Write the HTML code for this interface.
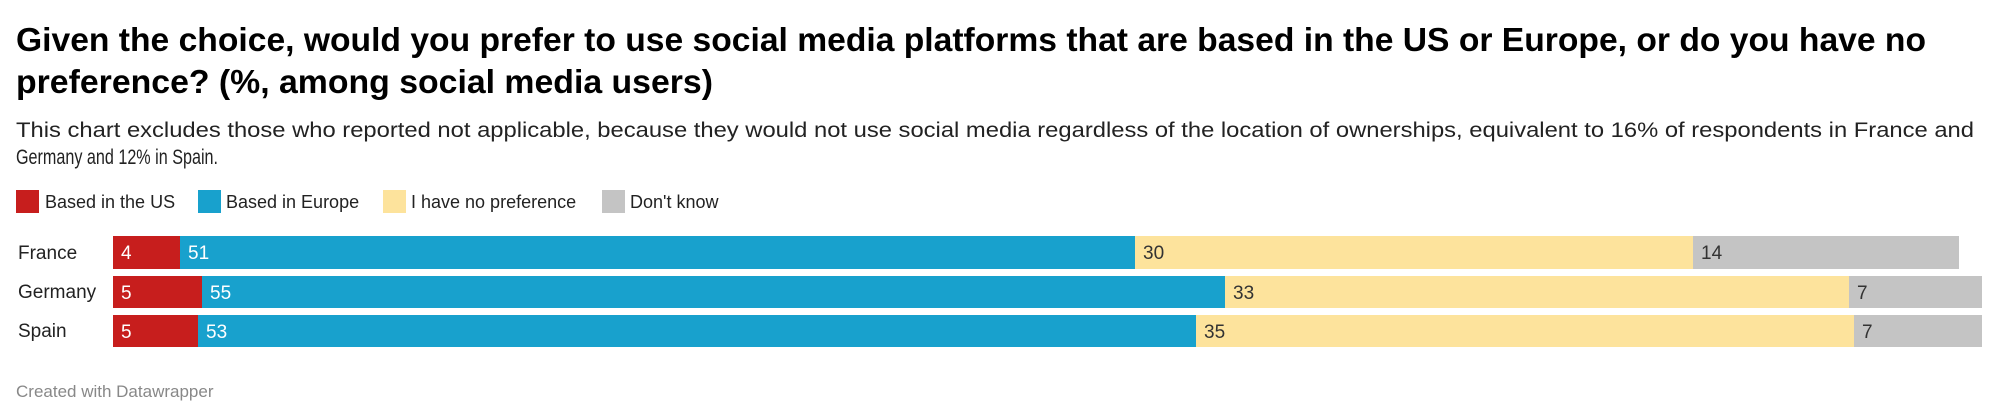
<!DOCTYPE html>
<html><head><meta charset="utf-8"><style>
html,body{margin:0;padding:0;background:#fff;width:2000px;height:418px;overflow:hidden}
svg text{font-family:"Liberation Sans",sans-serif}
</style></head><body>
<svg width="2000" height="418" xmlns="http://www.w3.org/2000/svg">
<text x="16" y="51" font-size="33" font-weight="bold" fill="#000" textLength="1910" lengthAdjust="spacingAndGlyphs">Given the choice, would you prefer to use social media platforms that are based in the US or Europe, or do you have no</text>
<text x="16" y="93" font-size="33" font-weight="bold" fill="#000" textLength="697" lengthAdjust="spacingAndGlyphs">preference? (%, among social media users)</text>
<text x="16" y="137" font-size="21" fill="#222" textLength="1958" lengthAdjust="spacingAndGlyphs">This chart excludes those who reported not applicable, because they would not use social media regardless of the location of ownerships, equivalent to 16% of respondents in France and</text>
<text x="16" y="164" font-size="21" fill="#222" textLength="202" lengthAdjust="spacingAndGlyphs">Germany and 12% in Spain.</text>
<rect x="16" y="190" width="23" height="23" fill="#c71e1d"/>
<text x="45" y="208" font-size="18" fill="#222">Based in the US</text>
<rect x="198" y="190" width="23" height="23" fill="#18a1cd"/>
<text x="226" y="208" font-size="18" fill="#222">Based in Europe</text>
<rect x="383" y="190" width="23" height="23" fill="#fde39c"/>
<text x="411" y="208" font-size="18" fill="#222">I have no preference</text>
<rect x="602" y="190" width="23" height="23" fill="#c4c4c4"/>
<text x="630" y="208" font-size="18" fill="#222">Don't know</text>
<g font-size="19">
<text x="18" y="259" fill="#222">France</text>
<rect x="113" y="236" width="67" height="33" fill="#c71e1d"/>
<rect x="180" y="236" width="955" height="33" fill="#18a1cd"/>
<rect x="1135" y="236" width="558" height="33" fill="#fde39c"/>
<rect x="1693" y="236" width="266" height="33" fill="#c4c4c4"/>
<text x="121" y="259" fill="#fff">4</text>
<text x="188" y="259" fill="#fff">51</text>
<text x="1143" y="259" fill="#333">30</text>
<text x="1701" y="259" fill="#333">14</text>
<text x="18" y="298" fill="#222">Germany</text>
<rect x="113" y="276" width="89" height="32" fill="#c71e1d"/>
<rect x="202" y="276" width="1023" height="32" fill="#18a1cd"/>
<rect x="1225" y="276" width="624" height="32" fill="#fde39c"/>
<rect x="1849" y="276" width="133" height="32" fill="#c4c4c4"/>
<text x="121" y="299" fill="#fff">5</text>
<text x="210" y="299" fill="#fff">55</text>
<text x="1233" y="299" fill="#333">33</text>
<text x="1857" y="299" fill="#333">7</text>
<text x="18" y="337" fill="#222">Spain</text>
<rect x="113" y="315" width="85" height="32" fill="#c71e1d"/>
<rect x="198" y="315" width="998" height="32" fill="#18a1cd"/>
<rect x="1196" y="315" width="658" height="32" fill="#fde39c"/>
<rect x="1854" y="315" width="128" height="32" fill="#c4c4c4"/>
<text x="121" y="338" fill="#fff">5</text>
<text x="206" y="338" fill="#fff">53</text>
<text x="1204" y="338" fill="#333">35</text>
<text x="1862" y="338" fill="#333">7</text>
</g>
<text x="16" y="397" font-size="17" fill="#888">Created with Datawrapper</text>
</svg>
</body></html>
